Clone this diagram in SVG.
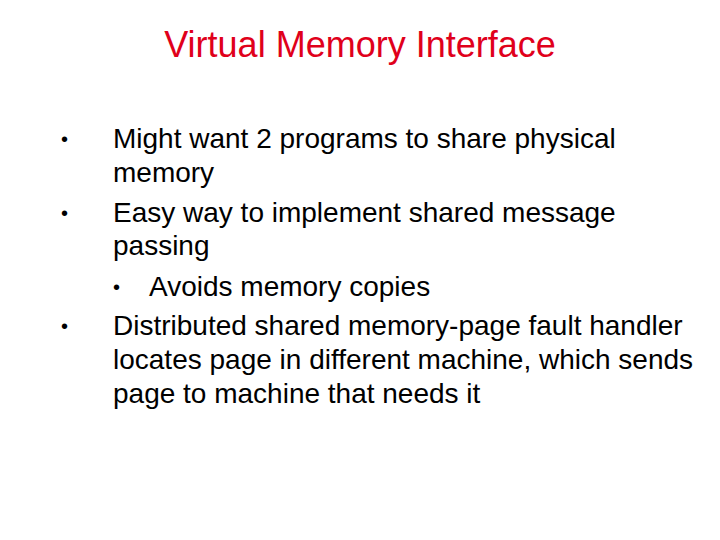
<svg xmlns="http://www.w3.org/2000/svg" width="720" height="540" viewBox="0 0 720 540">
<style>
text{font-family:"Liberation Sans",Arial,sans-serif;fill:#000}
.t{font-size:36px;fill:#e0001b}
.b{font-size:28px}
.d{font-size:20px}
</style>
<rect width="720" height="540" fill="#fff"/>
<text class="t" x="360" y="57" text-anchor="middle">Virtual Memory Interface</text>
<g id="body">
<text class="d" x="61" y="146">•</text>
<text class="b" x="113" y="148">Might want 2 programs to share physical</text>
<text class="b" x="113" y="182">memory</text>
<text class="d" x="61" y="220">•</text>
<text class="b" x="113" y="222">Easy way to implement shared message</text>
<text class="b" x="113" y="255">passing</text>
<text class="d" x="113" y="294">•</text>
<text class="b" x="149" y="296">Avoids memory copies</text>
<text class="d" x="61" y="333">•</text>
<text class="b" x="113" y="335">Distributed shared memory-page fault handler</text>
<text class="b" x="113" y="369">locates page in different machine, which sends</text>
<text class="b" x="113" y="403">page to machine that needs it</text>
</g>
</svg>
